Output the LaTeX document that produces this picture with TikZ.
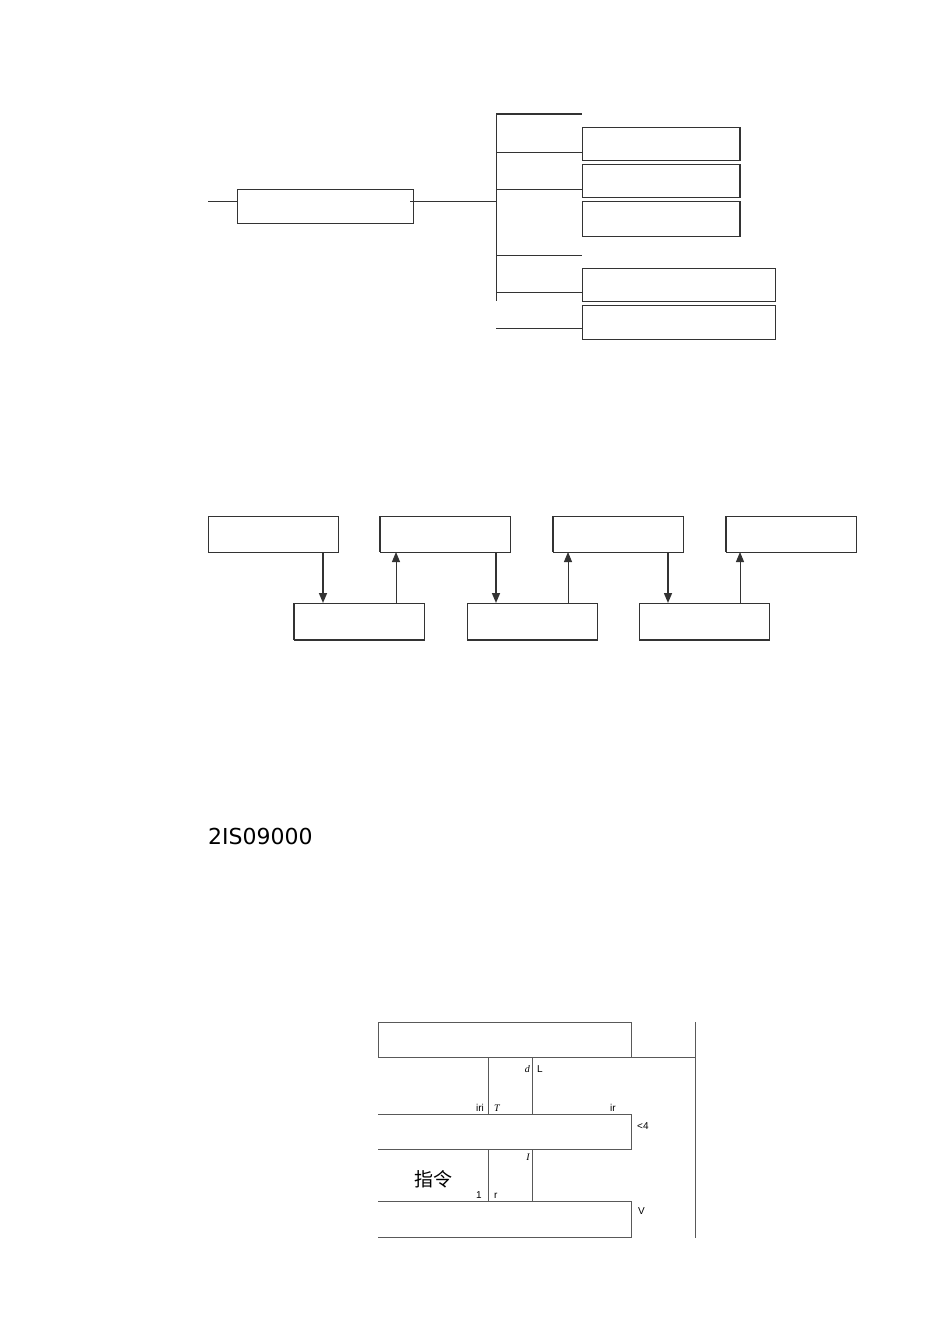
\documentclass[tikz,border=0pt]{standalone}
\usepackage{fontspec}
\setmainfont{Liberation Sans}
\newfontfamily\cjk{Noto Sans CJK SC}
\newfontfamily\serifit{Liberation Serif}
\newfontfamily\djv{DejaVu Sans}
\usetikzlibrary{arrows.meta}
\begin{document}
\begin{tikzpicture}[x=1pt,y=-1pt,
 ln/.style={draw=black!80, line width=1pt},
 thin/.style={draw=black!65, line width=0.8pt},
 box/.style={ln, rectangle, inner sep=0pt, outer sep=0pt, anchor=north west},
 gbox/.style={thin, rectangle, inner sep=0pt, outer sep=0pt, anchor=north west},
 arr/.style={ln, -{Triangle[length=10pt,width=8pt]}},
 lbl/.style={inner sep=0pt, font=\fontsize{10}{12}\selectfont},
 ilbl/.style={inner sep=0pt, font=\fontsize{10}{12}\serifit\itshape}]
\useasboundingbox (0,0) rectangle (950,1344);

% ---------- top section ----------
\node[box, minimum width=176pt, minimum height=34pt] (main) at (237,189) {};
\node[box, minimum width=158pt, minimum height=33pt] (b1) at (582,127) {};
\node[box, minimum width=158pt, minimum height=33pt] (b2) at (582,164) {};
\node[box, minimum width=158pt, minimum height=35pt] (b3) at (582,201) {};
\node[box, minimum width=193pt, minimum height=33pt] (b4) at (582,268) {};
\node[box, minimum width=193pt, minimum height=34pt] (b5) at (582,305) {};
\foreach \b in {b1,b2,b3}{\draw[ln, line width=1.6pt] (\b.north east) -- (\b.south east);}

\coordinate (tt) at (496,114);
\coordinate (tb) at (496,301);
\draw[ln] (tt) -- (tb);
\coordinate (r0) at (582,114);
\draw[ln, line width=1.5pt] (tt) -- (r0);
\coordinate (t1) at (496,152);
\coordinate (t2) at (496,189);
\coordinate (t3) at (496,255);
\coordinate (r3) at (582,255);
\coordinate (t4) at (496,292);
\coordinate (t5) at (496,328);
\draw[ln] (t1) -- (t1 -| b1.west);
\draw[ln] (t2) -- (t2 -| b2.west);
\draw[ln] (t3) -- (r3);
\draw[ln] (t4) -- (t4 -| b4.west);
\draw[ln] (t5) -- (t5 -| b5.west);
\coordinate (s0) at (208,201);
\coordinate (m1) at (496,201);
\coordinate (m0) at (410,201);
\draw[ln] (s0) -- (s0 -| main.west);
\draw[ln] (m0) -- (m1);

% ---------- middle section ----------
\node[box, minimum width=130pt, minimum height=36pt] (A) at (208,516) {};
\node[box, minimum width=130pt, minimum height=36pt] (B) at (380,516) {};
\node[box, minimum width=130pt, minimum height=36pt] (C) at (553,516) {};
\node[box, minimum width=130pt, minimum height=36pt] (D) at (726,516) {};
\node[box, minimum width=130pt, minimum height=37pt] (E) at (294,603) {};
\node[box, minimum width=130pt, minimum height=37pt] (F) at (467,603) {};
\node[box, minimum width=130pt, minimum height=37pt] (G) at (639,603) {};
\foreach \b in {B,C,D,E}{\draw[ln, line width=1.5pt] (\b.north west) -- (\b.south west);}
\foreach \b in {E,F,G}{\draw[ln, line width=1.4pt] (\b.south west) -- (\b.south east);}

\coordinate (x1) at (323,0);
\coordinate (x2) at (396,0);
\coordinate (x3) at (496,0);
\coordinate (x4) at (568,0);
\coordinate (x5) at (668,0);
\coordinate (x6) at (740,0);
\draw[arr, line width=1.5pt] (A.south -| x1) -- (E.north -| x1);
\draw[arr] (E.north -| x2) -- (B.south -| x2);
\draw[arr, line width=1.5pt] (B.south -| x3) -- (F.north -| x3);
\draw[arr] (F.north -| x4) -- (C.south -| x4);
\draw[arr, line width=1.5pt] (C.south -| x5) -- (G.north -| x5);
\draw[arr] (G.north -| x6) -- (D.south -| x6);

% ---------- text ----------
\node[anchor=base west, inner sep=0pt, font=\fontsize{22}{26}\djv] (iso) at (208,844) {2IS09000};

% ---------- bottom section ----------
\node[gbox, minimum width=253pt, minimum height=35pt] (top) at (378,1022) {};
\coordinate (rv1) at (695,1022);
\coordinate (rv2) at (695,1238);
\draw[thin] (rv1) -- (rv2);
\draw[thin] (top.south east) -- (top.south east -| rv1);

\coordinate (p1) at (378,1114);
\coordinate (p2) at (631,1114);
\coordinate (p3) at (631,1149);
\coordinate (p4) at (378,1149);
\draw[thin] (p1) -- (p2) -- (p3) -- (p4);
\coordinate (q1) at (378,1201);
\coordinate (q2) at (631,1201);
\coordinate (q3) at (631,1237);
\coordinate (q4) at (378,1237);
\draw[thin] (q1) -- (q2) -- (q3) -- (q4);

\coordinate (v1) at (488,0);
\coordinate (v2) at (532,0);
\draw[thin] (top.south -| v1) -- (p1 -| v1);
\draw[thin] (top.south -| v2) -- (p1 -| v2);
\draw[thin] (p4 -| v1) -- (q1 -| v1);
\draw[thin] (p4 -| v2) -- (q1 -| v2);

\node[ilbl, anchor=base east] (ld) at (530,1072) {d};
\node[lbl, anchor=base west] (lL) at (537,1072) {L};
\node[lbl, anchor=base east] (liri) at (484,1111) {iri};
\node[ilbl, anchor=base west] (lT) at (494,1111) {T};
\node[lbl, anchor=base west] (lir) at (610,1111) {ir};
\node[lbl, anchor=base west] (l4) at (637,1129) {<4};
\node[ilbl, anchor=base east] (lI) at (530,1160) {I};
\node[inner sep=0pt, font=\fontsize{19}{21}\cjk] (zl) at (433,1179) {指令};
\node[lbl, anchor=base east] (l1) at (482,1198) {1};
\node[lbl, anchor=base west] (lr) at (494,1198) {r};
\node[lbl, anchor=base west] (lV) at (638,1214) {V};
\end{tikzpicture}
\end{document}
